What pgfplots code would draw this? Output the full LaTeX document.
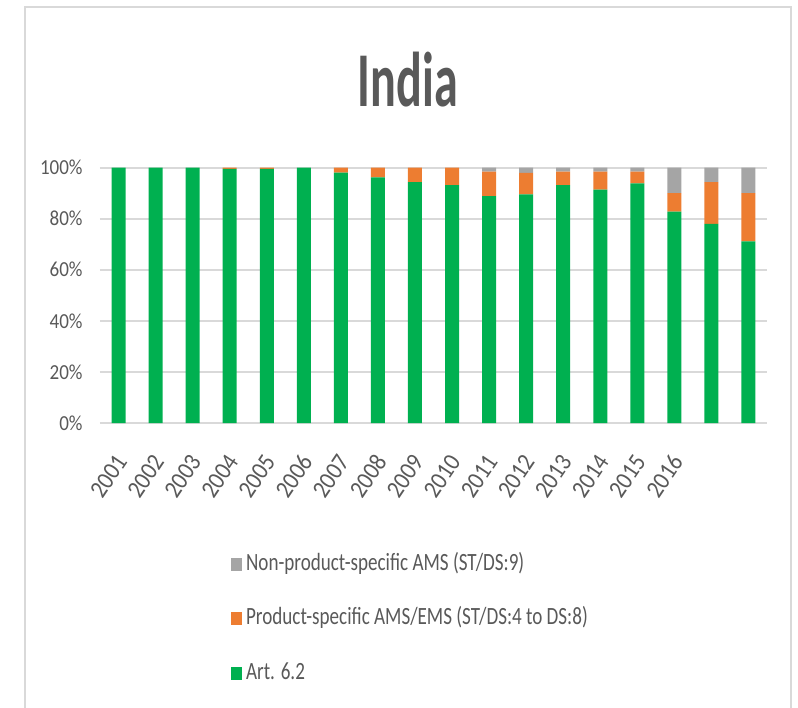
\documentclass[border=0pt]{standalone}
\usepackage{fontspec}
\setmainfont{Carlito}
\newfontfamily\titlefont{Carlito}[FakeStretch=0.62]
\newfontfamily\tickfont{Carlito}[FakeStretch=0.89]
\newfontfamily\xlabfont{Carlito}[FakeStretch=0.9]
\newfontfamily\legfont{Carlito}[FakeStretch=0.77]
\usepackage{pgfplots}
\pgfplotsset{compat=1.18}
\definecolor{cgreen}{HTML}{00B050}
\definecolor{corange}{HTML}{ED7D31}
\definecolor{cgrey}{HTML}{A5A5A5}
\definecolor{ctext}{HTML}{595959}
\definecolor{cgrid}{HTML}{D9D9D9}
\begin{document}
\begin{tikzpicture}
\useasboundingbox (0,0) rectangle (399pt,-353.5pt);
\draw[cgrid, line width=1pt] (12.5pt,-360pt) -- (12.5pt,-3.5pt) -- (395.5pt,-3.5pt) -- (395.5pt,-360pt);
\node[anchor=base, text=ctext, inner sep=0pt] at (204pt,-53pt) {\titlefont\fontsize{38.8}{40}\selectfont\bfseries India};
\begin{axis}[
  at={(50pt,-211.5pt)}, anchor=south west,
  scale only axis, width=333.5pt, height=127.75pt,
  ybar stacked, bar width=7pt,
  xmin=-0.5, xmax=17.5, ymin=0, ymax=100,
  xtick={0,...,17},
  xticklabels={2001,2002,2003,2004,2005,2006,2007,2008,2009,2010,2011,2012,2013,2014,2015,2016,{},{}},
  ytick={0,20,40,60,80,100},
  yticklabel={\pgfmathprintnumber{\tick}\%},
  /pgf/number format/assume math mode=true,
  major tick length=0pt,
  axis line style={draw=none},
  ymajorgrids, major grid style={cgrid, line width=1pt},
  yticklabel style={font=\tickfont\fontsize{10.7}{12}\selectfont, text=ctext, inner sep=0pt, xshift=-8.5pt},
  xticklabel style={font=\xlabfont\fontsize{12.5}{13}\selectfont, text=ctext, inner sep=0pt, anchor=east, yshift=-17pt, xshift=1.5pt, rotate=56},
  legend style={at={(axis description cs:0.187,-0.488)}, anchor=north west, draw=none, fill=none,
    font=\legfont\fontsize{12.4}{13}\selectfont, text=ctext, row sep=15.3pt, column sep=2pt,
    nodes={inner sep=0pt, text height=9pt, text depth=3pt}},
  legend cell align=left,
  reverse legend,
  legend image code/.code={\fill[#1] (0pt,-3.3pt) rectangle (5.5pt,3.3pt);},
]
\addplot[fill=cgreen, draw=none] coordinates {
(0,100) (1,100) (2,100) (3,99.5) (4,99.5) (5,100) (6,98.0) (7,96.1) (8,94.3)
(9,93.1) (10,88.8) (11,89.5) (12,93.1) (13,91.3) (14,93.75) (15,82.7) (16,77.9) (17,71.1)};
\addplot[fill=corange, draw=none] coordinates {
(0,0) (1,0) (2,0) (3,0.5) (4,0.5) (5,0) (6,2.0) (7,3.9) (8,5.7)
(9,6.9) (10,9.6) (11,8.4) (12,5.3) (13,7.1) (14,4.65) (15,7.3) (16,16.4) (17,18.9)};
\addplot[fill=cgrey, draw=none] coordinates {
(0,0) (1,0) (2,0) (3,0) (4,0) (5,0) (6,0) (7,0) (8,0)
(9,0) (10,1.6) (11,2.1) (12,1.6) (13,1.6) (14,1.6) (15,10.0) (16,5.7) (17,10.0)};
\legend{Art. 6.2, Product-specific AMS/EMS (ST/DS:4 to DS:8), Non-product-specific AMS (ST/DS:9)}
\end{axis}
\end{tikzpicture}
\end{document}
